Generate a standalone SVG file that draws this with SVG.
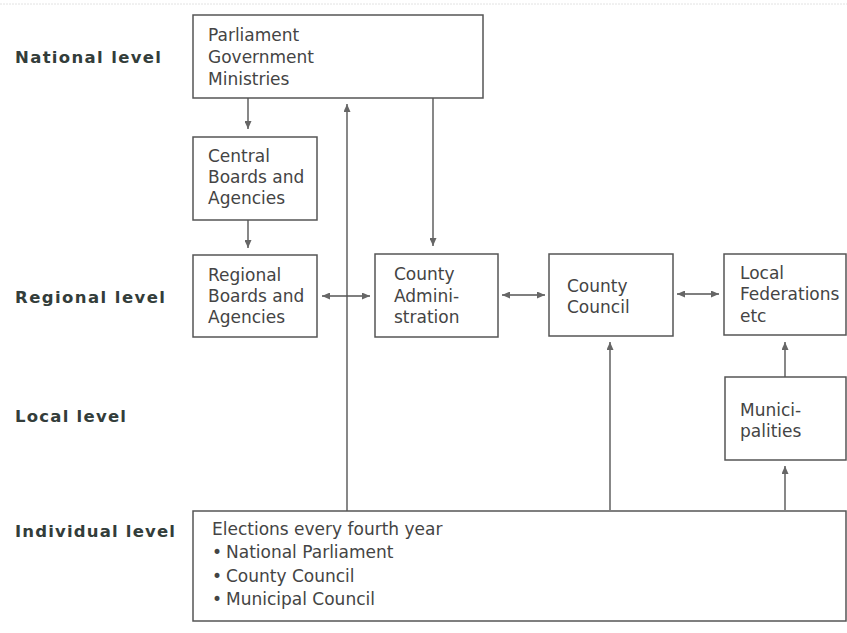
<svg xmlns="http://www.w3.org/2000/svg" width="847" height="633" viewBox="0 0 847 633">
<defs>
<marker id="ah" viewBox="0 0 8 7" refX="8" refY="3.5" markerWidth="8" markerHeight="7" markerUnits="userSpaceOnUse" orient="auto-start-reverse">
<path d="M0,0 L8,3.5 L0,7 z" fill="#666"/>
</marker>
<style>
.box{fill:#fff;stroke:#555;stroke-width:1.5}
.t{font-family:"DejaVu Sans","Open Sans",sans-serif;font-size:17px;fill:#444}
.lvl{font-family:"DejaVu Sans","Open Sans",sans-serif;font-size:16.5px;font-weight:bold;fill:#333d3a}
.a{fill:none;stroke:#555;stroke-width:1.4;marker-end:url(#ah)}
.d{fill:none;stroke:#555;stroke-width:1.4;marker-start:url(#ah);marker-end:url(#ah)}
</style>
</defs>
<rect width="847" height="633" fill="#fff"/>
<line x1="0" y1="4" x2="847" y2="4" stroke="#e2e2e2" stroke-width="1" stroke-dasharray="2 1"/>

<g id="levels">
<text class="lvl" x="15" y="63" textLength="146" lengthAdjust="spacing">National level</text>
<text class="lvl" x="15" y="303" textLength="150" lengthAdjust="spacing">Regional level</text>
<text class="lvl" x="15" y="422" textLength="111" lengthAdjust="spacing">Local level</text>
<text class="lvl" x="15" y="537" textLength="160" lengthAdjust="spacing">Individual level</text>
</g>

<g id="connectors">
<line class="a" x1="248" y1="98" x2="248" y2="129"/>
<line class="a" x1="248" y1="220" x2="248" y2="248"/>
<line class="a" x1="347" y1="511" x2="347" y2="104"/>
<line class="a" x1="433" y1="98" x2="433" y2="246"/>
<line class="d" x1="322" y1="296" x2="370" y2="296"/>
<line class="d" x1="502" y1="295" x2="545" y2="295"/>
<line class="d" x1="677" y1="294" x2="719" y2="294"/>
<line class="a" x1="610" y1="510" x2="610" y2="342"/>
<line class="a" x1="785" y1="377" x2="785" y2="342"/>
<line class="a" x1="785" y1="510" x2="785" y2="466"/>
</g>

<g id="n-national">
<rect class="box" x="193" y="15" width="290" height="83"/>
<text class="t" x="208" y="41">Parliament</text>
<text class="t" x="208" y="63">Government</text>
<text class="t" x="208" y="85">Ministries</text>
</g>

<g id="n-central">
<rect class="box" x="193" y="137" width="124" height="83"/>
<text class="t" x="208" y="162">Central</text>
<text class="t" x="208" y="183">Boards and</text>
<text class="t" x="208" y="204">Agencies</text>
</g>

<g id="n-regional">
<rect class="box" x="193" y="255" width="124" height="82"/>
<text class="t" x="208" y="281">Regional</text>
<text class="t" x="208" y="302">Boards and</text>
<text class="t" x="208" y="323">Agencies</text>
</g>

<g id="n-county-admin">
<rect class="box" x="375" y="254" width="123" height="83"/>
<text class="t" x="394" y="280">County</text>
<text class="t" x="394" y="302">Admini-</text>
<text class="t" x="394" y="323">stration</text>
</g>

<g id="n-county-council">
<rect class="box" x="549" y="254" width="124" height="82"/>
<text class="t" x="567" y="292">County</text>
<text class="t" x="567" y="313">Council</text>
</g>

<g id="n-local-federations">
<rect class="box" x="724" y="254" width="122" height="81"/>
<text class="t" x="740" y="279">Local</text>
<text class="t" x="740" y="300">Federations</text>
<text class="t" x="740" y="322">etc</text>
</g>

<g id="n-municipalities">
<rect class="box" x="725" y="377" width="121" height="83"/>
<text class="t" x="740" y="416">Munici-</text>
<text class="t" x="740" y="437">palities</text>
</g>

<g id="n-individual">
<rect class="box" x="193" y="511" width="653" height="110"/>
<text class="t" x="212" y="535">Elections every fourth year</text>
<text class="t" x="212" y="558">•</text>
<text class="t" x="226" y="558">National Parliament</text>
<text class="t" x="212" y="582">•</text>
<text class="t" x="226" y="582">County Council</text>
<text class="t" x="212" y="605">•</text>
<text class="t" x="226" y="605">Municipal Council</text>
</g>
</svg>
